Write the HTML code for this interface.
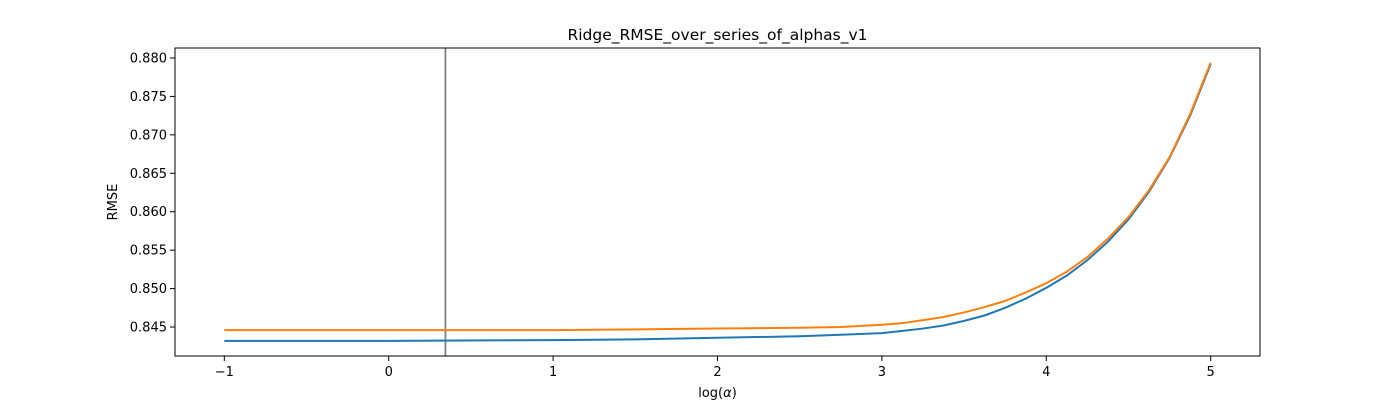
<!DOCTYPE html>
<html><head><meta charset="utf-8"><style>
body{margin:0;background:#fff;font-family:"Liberation Sans","DejaVu Sans",sans-serif;}
svg text{font-family:"DejaVu Sans","Liberation Sans",sans-serif;}
</style></head><body>
<svg id="c" width="1400" height="400" xmlns="http://www.w3.org/2000/svg"></svg>
<script>
const xVals = [-1,0,1,1.5,2,2.5,2.75,3,3.125,3.25,3.375,3.5,3.625,3.75,3.875,4,4.125,4.25,4.375,4.5,4.625,4.75,4.875,5];
const trainRmse = [0.8432,0.8432,0.8433,0.8434,0.8436,0.8438,0.8440,0.8442,0.8445,0.8448,0.8452,0.8458,0.8465,0.8475,0.8487,0.8501,0.8517,0.8537,0.8561,0.8590,0.8626,0.8670,0.8725,0.8792];
const testRmse = [0.8446,0.8446,0.8446,0.8447,0.8448,0.8449,0.8450,0.8453,0.8455,0.8459,0.8463,0.8469,0.8476,0.8484,0.8495,0.8507,0.8522,0.8541,0.8565,0.8593,0.8628,0.8671,0.8727,0.8794];
const xTicks = [-1,0,1,2,3,4,5];
const yTicks = [0.845,0.850,0.855,0.860,0.865,0.870,0.875,0.880];
const bestAlphaLog = 0.345;

const L=175,R=1260,T=48,B=356;
const xMin=-1.3,xMax=5.3,yMin=0.84123,yMax=0.8813;
const sx=v=>L+(v-xMin)/(xMax-xMin)*(R-L);
const sy=v=>B-(v-yMin)/(yMax-yMin)*(B-T);
const svg=document.getElementById('c');
const NS='http://www.w3.org/2000/svg';
function mk(tag,attrs,parent){const e=document.createElementNS(NS,tag);for(const k in attrs)e.setAttribute(k,attrs[k]);(parent||svg).appendChild(e);return e;}

const vline=mk('line',{x1:sx(bestAlphaLog),x2:sx(bestAlphaLog),y1:T,y2:B,stroke:'#808080','stroke-width':1.8});



function series(vals,color,name){
  const d=vals.map((v,i)=>(i?'L':'M')+sx(xVals[i]).toFixed(2)+','+sy(v).toFixed(2)).join('');
  const p=mk('path',{d:d,fill:'none',stroke:color,'stroke-width':2});
  
  
}
series(trainRmse,'#1f77b4','train-rmse-line');
series(testRmse,'#ff7f0e','test-rmse-line');

const frame=mk('rect',{x:L,y:T,width:R-L,height:B-T,fill:'none',stroke:'#000','stroke-width':1});



xTicks.forEach(t=>{
  const x=sx(t);
  mk('line',{x1:x,x2:x,y1:B,y2:B+5,stroke:'#000','stroke-width':1});
  const tx=mk('text',{x:x,y:B+20,'font-size':13,'text-anchor':'middle',fill:'#000'});
  tx.textContent=t<0?'\u2212'+(-t):String(t);
  
  
});
yTicks.forEach(t=>{
  const y=sy(t);
  mk('line',{x1:L-5,x2:L,y1:y,y2:y,stroke:'#000','stroke-width':1});
  const tx=mk('text',{x:L-8,y:y+4.5,'font-size':13,'text-anchor':'end',fill:'#000'});
  tx.textContent=t.toFixed(3);
  
  
});

const title=mk('text',{x:(L+R)/2,y:40,'font-size':15.5,'text-anchor':'middle',fill:'#000'});
title.textContent='Ridge_RMSE_over_series_of_alphas_v1';



const xl=mk('text',{x:(L+R)/2,y:397,'font-size':13,'text-anchor':'middle',fill:'#000'});
xl.innerHTML='log(<tspan font-style="italic">α</tspan>)';



const yl=mk('text',{x:117,y:(T+B)/2,'font-size':13,'text-anchor':'middle',fill:'#000',transform:'rotate(-90 117 '+((T+B)/2)+')'});
yl.textContent='RMSE';


</script>
</body></html>
